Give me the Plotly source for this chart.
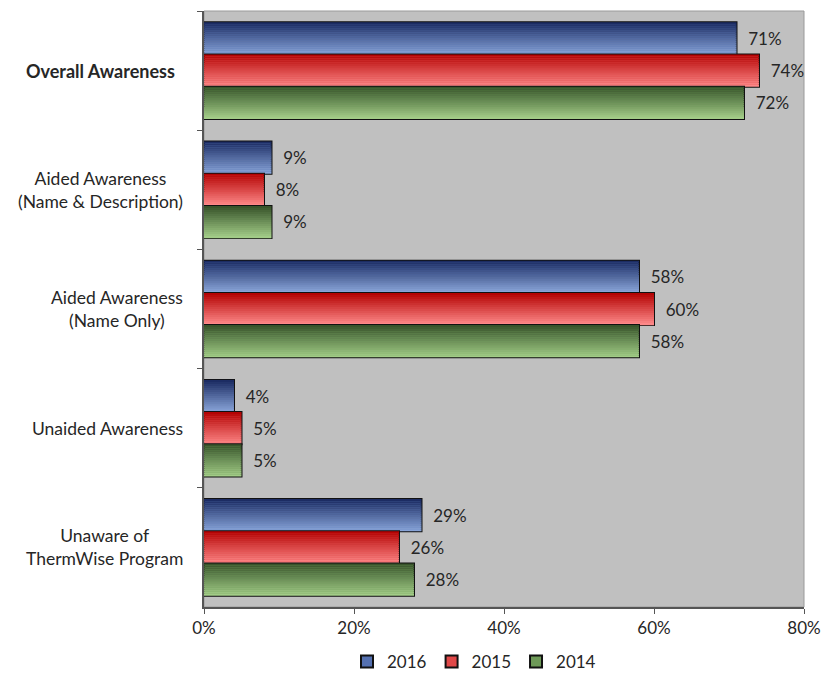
import plotly.graph_objects as go

categories = ["Overall Awareness", "Aided Awareness<br>(Name & Description)",
              "Aided Awareness<br>(Name Only)", "Unaided Awareness",
              "Unaware of<br>ThermWise Program"]
cat_keys = ["c0", "c1", "c2", "c3", "c4"]
series_names = ["2016", "2015", "2014"]
v2016 = [0.71, 0.09, 0.58, 0.04, 0.29]
v2015 = [0.74, 0.08, 0.60, 0.05, 0.26]
v2014 = [0.72, 0.09, 0.58, 0.05, 0.28]
series_values = [v2016, v2015, v2014]
grad_top = [(24, 40, 95), (178, 0, 0), (52, 80, 40)]
grad_bot = [(140, 168, 220), (255, 140, 140), (166, 208, 138)]
mid_col = ["#5470B0", "#E04848", "#6E9A58"]

FONT = "Lato"
TXT = "#262626"
W = 0.27
K = 16

fig = go.Figure()
for s in range(3):
    start = -1.5 * W + s * W
    fig.add_trace(go.Bar(
        x=series_values[s], y=cat_keys, orientation="h", name=series_names[s],
        offset=start, width=W,
        marker=dict(color=mid_col[s], line=dict(color="#111111", width=2)),
        text=["\u00a0\u00a0" + f"{round(v*100)}%" for v in series_values[s]],
        textposition="outside", cliponaxis=False,
        textfont=dict(family=FONT, size=17, color=TXT),
        hoverinfo="skip",
    ))
    for k in range(K):
        t = (k + 0.5) / K
        c = tuple(int(round(grad_top[s][i] + (grad_bot[s][i] - grad_top[s][i]) * t)) for i in range(3))
        fig.add_trace(go.Bar(
            x=series_values[s], y=cat_keys, orientation="h",
            offset=start + k * W / K, width=W / K + 0.0005,
            marker=dict(color="rgb(%d,%d,%d)" % c, line=dict(width=0)),
            showlegend=False, hoverinfo="skip",
        ))

annotations = []
for i, c in enumerate(categories):
    txt = f"<b>{c}</b>" if i == 0 else c
    annotations.append(dict(x=-0.032, xref="paper", y=cat_keys[i], yref="y",
                            text=txt, showarrow=False, xanchor="right", align="center",
                            xshift=-8 if i == 0 else 0,
                            font=dict(family=FONT, size=18 if i == 0 else 17.5, color=TXT)))

fig.update_layout(
    width=825, height=675,
    margin=dict(l=204, r=21, t=11, b=68, autoexpand=False),
    barmode="overlay",
    plot_bgcolor="#C0C0C0", paper_bgcolor="white",
    font=dict(family=FONT, size=17, color=TXT),
    annotations=annotations,
    legend=dict(orientation="h", x=0.45, xanchor="center", y=-0.092, yanchor="middle",
                font=dict(family=FONT, size=17, color=TXT), traceorder="normal",
                itemwidth=30, tracegroupgap=0),
    showlegend=True,
)
fig.update_xaxes(range=[0, 0.8], dtick=0.2, tickformat=".0%", showgrid=False,
                 ticks="outside", ticklen=5, tickcolor="#555555",
                 showline=True, linecolor="#555555", linewidth=1.5, mirror=False,
                 zeroline=False, tickfont=dict(family=FONT, size=17, color=TXT))
fig.update_yaxes(type="category", categoryorder="array", categoryarray=cat_keys,
                 range=[4.5, -0.5], showticklabels=False, showgrid=False,
                 ticks="outside", tickson="boundaries", ticklen=5, tickcolor="#555555",
                 showline=True, linecolor="#555555", linewidth=1.5, zeroline=False)
fig.add_shape(type="rect", xref="paper", yref="paper", x0=0, y0=0, x1=1, y1=1,
              line=dict(color="#9A9A9A", width=1), fillcolor="rgba(0,0,0,0)", layer="below")

fig.write_html("out.html")
